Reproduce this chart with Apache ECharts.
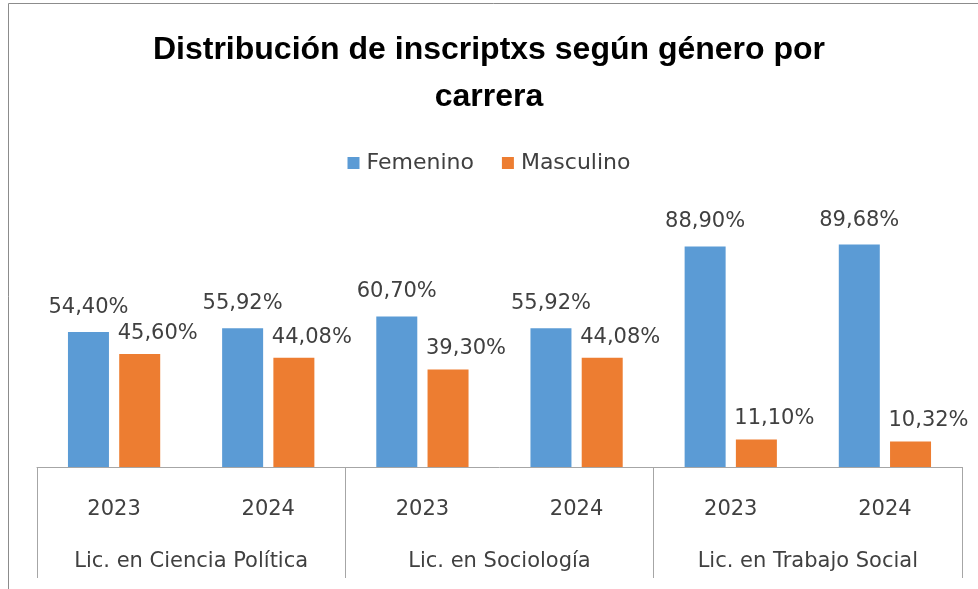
<!DOCTYPE html>
<html>
<head>
<meta charset="utf-8">
<script src="https://cdn.jsdelivr.net/npm/echarts@6/dist/echarts.min.js"></script>
<style>
  html, body { margin: 0; padding: 0; background: #fff; }
  #chart { width: 978px; height: 589px; }
</style>
</head>
<body>
<div id="chart"></div>
<script>
// datos
const careers = ['Lic. en Ciencia Política', 'Lic. en Sociología', 'Lic. en Trabajo Social']
const years = ['2023', '2024', '2023', '2024', '2023', '2024']
const femenino = [54.40, 55.92, 60.70, 55.92, 88.90, 89.68]
const masculino = [45.60, 44.08, 39.30, 44.08, 11.10, 10.32]

const font = 'DejaVu Sans'
const fmt = p => p.value.toFixed(2).replace('.', ',') + '%'

const chart = echarts.init(document.getElementById('chart'))

chart.setOption({
  animation: false,
  textStyle: { fontFamily: font },
  graphic: [{
    type: 'rect',
    shape: { x: 8.5, y: 3.5, width: 1000, height: 600 },
    style: { fill: 'none', stroke: '#8c8c8c', lineWidth: 1 }
  }],
  title: {
    text: 'Distribución de inscriptxs según género por\ncarrera',
    left: 'center',
    top: 22,
    textStyle: { fontFamily: 'Liberation Sans', fontWeight: 'bold', fontSize: 32, lineHeight: 47, color: '#000' }
  },
  legend: {
    top: 147,
    left: 'center',
    icon: 'rect',
    itemWidth: 12,
    itemHeight: 12,
    itemGap: 28,
    textStyle: { fontSize: 22, color: '#404040', padding: [0, 0, 0, 2] },
    data: ['Femenino', 'Masculino']
  },
  grid: { left: 37, right: 16, top: 219, bottom: 122 },
  xAxis: [
    {
      type: 'category',
      data: years,
      position: 'bottom',
      axisLine: { lineStyle: { color: '#a6a6a6' } },
      axisTick: { show: false },
      axisLabel: { margin: 32, fontSize: 21, color: '#404040' }
    },
    {
      type: 'category',
      data: careers,
      position: 'bottom',
      axisLine: { show: false },
      axisTick: { show: true, length: 111, lineStyle: { color: '#a6a6a6' } },
      axisLabel: { margin: 84, fontSize: 21, color: '#404040' }
    }
  ],
  yAxis: { type: 'value', min: 0, max: 100, show: false, splitLine: { show: false } },
  series: [
    {
      name: 'Femenino',
      type: 'bar',
      data: femenino,
      barWidth: 41,
      barGap: '25%',
      itemStyle: { color: '#5b9bd5' },
      label: { show: true, position: 'top', distance: 14, fontSize: 21, color: '#404040', formatter: fmt }
    },
    {
      name: 'Masculino',
      type: 'bar',
      data: masculino,
      barWidth: 41,
      barGap: '25%',
      itemStyle: { color: '#ed7d31' },
      label: { show: true, position: 'top', distance: 10, offset: [18, 0], fontSize: 21, color: '#404040', formatter: fmt }
    }
  ]
})
</script>
</body>
</html>
